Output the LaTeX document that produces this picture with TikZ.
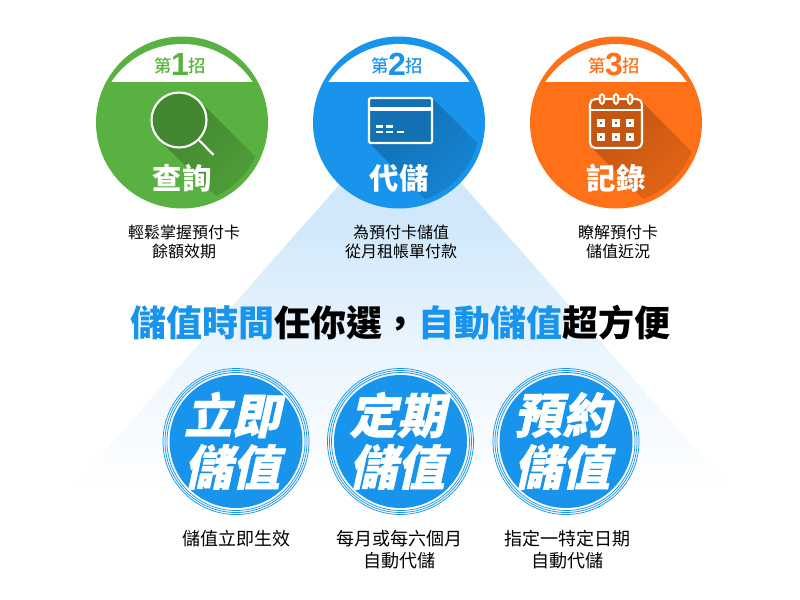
\documentclass[tikz,border=0pt]{standalone}
\usepackage{fontspec}
\setmainfont{Noto Sans CJK TC}
\newfontfamily\cjkmedium{Noto Sans CJK TC Medium}
\newfontfamily\cjkblack{Noto Sans CJK TC Black}
\newfontfamily\cjkslant[FakeSlant=0.22,FakeBold=0.8]{Noto Sans CJK TC Black}
\newfontfamily\digitfont{Liberation Sans Bold}
\definecolor{tipblue}{RGB}{24,148,236}
\definecolor{tipgreen}{RGB}{88,177,64}
\definecolor{tiporange}{RGB}{255,113,24}
\definecolor{wedgeblue}{RGB}{208,232,250}
\tikzset{
  capnote/.style={anchor=center,inner sep=0.75pt,align=center,font=\fontsize{12}{14.5}\selectfont},
  subnote/.style={anchor=center,inner sep=0.75pt,align=center,font=\fontsize{13.5}{16.5}\selectfont},
  tiphead/.style={anchor=center,inner sep=0pt,text=white,font=\cjkblack\fontsize{22}{26}\selectfont},
  tiprank/.style={anchor=base,inner sep=0pt,font=\cjkmedium\fontsize{13}{15}\selectfont},
  tipdigit/.style={anchor=base,inner sep=0pt,font=\digitfont\fontsize{24}{26}\selectfont},
  badgetext/.style={anchor=center,inner sep=0pt,text=white,font=\cjkslant\fontsize{36}{40}\selectfont},
  badgering/.style={draw=tipblue,line width=0.55pt},
  iconline/.style={draw=white,line width=1.6pt,line join=round}
}
\begin{document}
\begin{tikzpicture}[x=0.75pt,y=0.75pt,yscale=-1,xscale=1]
	\useasboundingbox (0,0) rectangle (800,600);

	% Wedge behind the columns
	\fill [wedgeblue] (401,114) -- (494,220.5) -- (308,220.5) -- cycle;
	\shade [top color=wedgeblue,bottom color=white,middle color=wedgeblue!42!white] (308,220) -- (494,220) -- (731,490) -- (71,490) -- cycle;

	% Green disc
	\fill [tipgreen] (182,122.5) circle [radius=86];
	\begin{scope}
		\clip (182,122.5) circle [radius=81];
		\shade [left color=tipgreen!76!black,right color=tipgreen!92!black,shading angle=45] (198.8,100.2) -- (270,171.4) -- (237,217) -- (159.2,139.8) -- cycle;
	\end{scope}
	\begin{scope}
		\clip (90,30) rectangle (270,81);
		\fill [white] (182,128.7) circle [radius=84.7];
	\end{scope}
	% Magnifier
	\draw [iconline,fill=tipgreen!76!black] (179,120) circle [radius=27.5];
	\draw [iconline,line cap=round] (200,141) -- (213,154.5);
	\node (headone) [tiphead] at (182,178.5) {查詢};
	\node (rankone) [tiprank,text=tipgreen] at (163.5,72.5) {第};
	\node (digitone) [tipdigit,text=tipgreen] at (180,75) {1};
	\node (rankonetail) [tiprank,text=tipgreen] at (197.5,72.5) {招};

	% Blue disc
	\fill [tipblue] (399,122.5) circle [radius=86];
	\begin{scope}
		\clip (399,122.5) circle [radius=81];
		\shade [left color=tipblue!76!black,right color=tipblue!92!black,shading angle=45] (432,98) -- (500,166) -- (440,214) -- (369,143) -- cycle;
	\end{scope}
	\begin{scope}
		\clip (300,30) rectangle (500,81);
		\fill [white] (399,128.7) circle [radius=84.7];
	\end{scope}
	% Card window
	\draw [iconline,fill=tipblue!76!black,rounded corners=1pt] (369,98) rectangle (432,143);
	\draw [iconline,line width=2.4pt] (369,109) -- (432,109);
	\draw [white,line width=2.2pt] (376,126.7) -- (383,126.7) (385.7,126.7) -- (393,126.7) (376,132) -- (383,132) (385.7,132) -- (393,132) (397,132) -- (404,132);
	\node (headtwo) [tiphead] at (399,178.5) {代儲};
	\node (ranktwo) [tiprank,text=tipblue] at (380,72.5) {第};
	\node (digittwo) [tipdigit,text=tipblue] at (397,75) {2};
	\node (ranktwotail) [tiprank,text=tipblue] at (414.5,72.5) {招};

	% Orange disc
	\fill [tiporange] (616,122.5) circle [radius=86];
	\begin{scope}
		\clip (616,122.5) circle [radius=81];
		\shade [left color=tiporange!76!black,right color=tiporange!92!black,shading angle=45] (642,102) -- (710,170) -- (660,216) -- (592,148) -- cycle;
	\end{scope}
	\begin{scope}
		\clip (520,30) rectangle (710,81);
		\fill [white] (616,128.7) circle [radius=84.7];
	\end{scope}
	% Calendar
	\draw [iconline,fill=tiporange!76!black,rounded corners=4pt] (590,99) rectangle (642,148);
	\draw [iconline] (590,110) -- (642,110);
	\foreach \ringx in {602,616,630}
		\draw [white,line width=1.4pt,fill=tiporange] (\ringx,99) ellipse [x radius=2.5,y radius=5];
	\foreach \cellx in {601,616,630}
		\foreach \celly in {123,137}
			\draw [white,line width=1.6pt] (\cellx-2.5,\celly-2.5) rectangle (\cellx+2.5,\celly+2.5);
	\node (headthree) [tiphead] at (616,178.5) {記錄};
	\node (rankthree) [tiprank,text=tiporange] at (597,72.5) {第};
	\node (digitthree) [tipdigit,text=tiporange] at (614,75) {3};
	\node (rankthreetail) [tiprank,text=tiporange] at (631.5,72.5) {招};

	% Notes under the discs
	\node (noteone) [capnote] at (184,242) {輕鬆掌握預付卡\\餘額效期};
	\node (notetwo) [capnote] at (401,242) {為預付卡儲值\\從月租帳單付款};
	\node (notethree) [capnote] at (618,242) {瞭解預付卡\\儲值近況};

	% Title
	\node (title) [anchor=center,inner sep=0pt,font=\cjkblack\fontsize{27}{32}\selectfont] at (400,323) {\textcolor{tipblue}{儲值時間}任你選，\textcolor{tipblue}{自動儲值}超方便};

	% Badges
	\fill [tipblue] (236,441.5) circle [radius=66.5];
	\foreach \ringr in {69,71,73}
		\draw [badgering] (236,441.5) circle [radius=\ringr];
	\node (badgeonetop) [badgetext] at (232,415) {立即};
	\node (badgeonelow) [badgetext] at (232,467) {儲值};

	\fill [tipblue] (400.5,441.5) circle [radius=66.5];
	\foreach \ringr in {69,71,73}
		\draw [badgering] (400.5,441.5) circle [radius=\ringr];
	\node (badgetwotop) [badgetext] at (397,415) {定期};
	\node (badgetwolow) [badgetext] at (397,467) {儲值};

	\fill [tipblue] (566,441.5) circle [radius=66.5];
	\foreach \ringr in {69,71,73}
		\draw [badgering] (566,441.5) circle [radius=\ringr];
	\node (badgethreetop) [badgetext] at (562,415) {預約};
	\node (badgethreelow) [badgetext] at (562,467) {儲值};

	% Notes under the badges
	\node (subone) [subnote] at (236,539) {儲值立即生效};
	\node (subtwo) [subnote] at (399,550) {每月或每六個月\\自動代儲};
	\node (subthree) [subnote] at (567,550) {指定一特定日期\\自動代儲};
\end{tikzpicture}
\end{document}
